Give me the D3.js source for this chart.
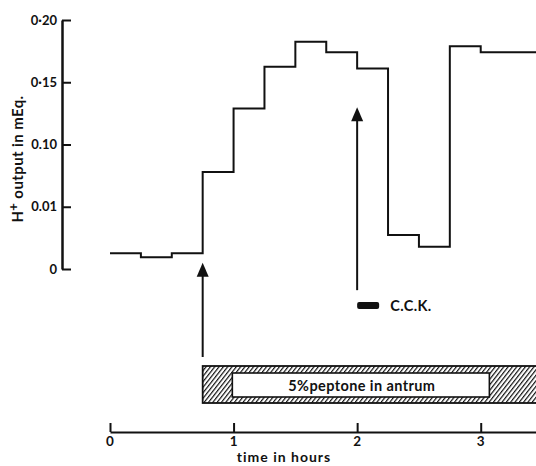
<!DOCTYPE html>
<head>
  <meta charset="utf-8">
  <style>
    body { margin: 0; background: #fff; }
    text { font-family: Lato, "DejaVu Sans", sans-serif; font-weight: bold; fill: #111; }
  </style>
  <script src="https://cdn.jsdelivr.net/npm/d3@7"></script>
</head>
<body>
  <script>
    // 15 minute collection periods (start, in hours) and H+ output (mEq)
    const periodStart = [0, 0.25, 0.5, 0.75, 1, 1.25, 1.5, 1.75, 2, 2.25, 2.5, 2.75, 3, 3.25];
    const output = [0.0126, 0.0094, 0.0126, 0.078, 0.129, 0.1625, 0.1826, 0.174, 0.161, 0.0273, 0.0179, 0.179, 0.174, 0.174];
    const periodLen = 0.25;

    const xTicks = [0, 1, 2, 3];
    const yTicks = [0, 0.05, 0.1, 0.15, 0.2];
    const yTickLabels = ['0', '0.01', '0.10', '0·15', '0·20'];

    // annotations: arrows (time, tip value, tail value), peptone infusion, C.C.K.
    const arrows = [[0.75, 0.005, -0.0707], [2, 0.13, -0.017]];
    const peptone = { start: 0.75, end: 3.6, labelStart: 0.99, labelEnd: 3.07, text: '5%peptone in antrum' };

    const w = 536, h = 466;
    const x = d3.scaleLinear().domain([0, 3.5]).range([110, 542.5]);
    const y = d3.scaleLinear().domain([0, 0.2]).range([269, 20]);

    const svg = d3.select('body').append('svg')
      .attr('width', w)
      .attr('height', h);

    const defs = svg.append('defs');
    defs.append('pattern')
      .attr('id', 'hatch')
      .attr('patternUnits', 'userSpaceOnUse')
      .attr('width', 3.4)
      .attr('height', 6)
      .attr('patternTransform', 'rotate(38)')
      .append('line')
      .attr('x1', 0).attr('y1', 0).attr('x2', 0).attr('y2', 6)
      .attr('stroke', '#111')
      .attr('stroke-width', 2.4);

    // y axis
    const yAxis = svg.append('g')
      .attr('transform', 'translate(62,0)')
      .call(d3.axisRight(y).tickValues(yTicks).tickSize(9).tickSizeOuter(0).tickFormat(''));
    yAxis.select('.domain').attr('stroke', '#111').attr('stroke-width', 2.5);
    yAxis.selectAll('.tick line').attr('stroke', '#111').attr('stroke-width', 2);

    svg.selectAll('.ylab')
      .data(yTicks)
      .enter()
      .append('text')
      .attr('class', 'ylab')
      .attr('x', 57)
      .attr('y', d => y(d) + 4.5)
      .attr('text-anchor', 'end')
      .attr('font-size', '13px')
      .text((d, i) => yTickLabels[i]);

    const yTitle = svg.append('text')
      .attr('transform', 'translate(23,159) rotate(-90)')
      .attr('text-anchor', 'middle')
      .attr('font-size', '15px')
      .attr('letter-spacing', '0.4px');
    yTitle.append('tspan').text('H');
    yTitle.append('tspan').attr('dy', -5).attr('font-size', '13px').text('+');
    yTitle.append('tspan').attr('dy', 5).text(' output in mEq.');

    // x axis
    const xAxis = svg.append('g')
      .attr('transform', 'translate(0,432)')
      .call(d3.axisTop(x).tickValues(xTicks.concat([3.5])).tickSize(9).tickSizeOuter(0).tickFormat(''));
    xAxis.select('.domain').attr('stroke', '#111').attr('stroke-width', 2.2);
    xAxis.selectAll('.tick line').attr('stroke', '#111').attr('stroke-width', 2);

    svg.selectAll('.xlab')
      .data(xTicks)
      .enter()
      .append('text')
      .attr('class', 'xlab')
      .attr('x', d => x(d))
      .attr('y', 446)
      .attr('text-anchor', 'middle')
      .attr('font-size', '13.5px')
      .text(d => d);

    svg.append('text')
      .attr('x', 284)
      .attr('y', 462)
      .attr('text-anchor', 'middle')
      .attr('font-size', '14px')
      .attr('letter-spacing', '1px')
      .text('time  in  hours');

    // step line of acid output
    const pts = [];
    periodStart.forEach((t, i) => {
      pts.push([t, output[i]]);
      pts.push([t + periodLen, output[i]]);
    });
    svg.append('path')
      .datum(pts)
      .attr('fill', 'none')
      .attr('stroke', '#111')
      .attr('stroke-width', 2)
      .attr('d', d3.line().x(d => x(d[0])).y(d => y(d[1])));

    // arrows
    arrows.forEach(a => {
      const ax = x(a[0]), tip = y(a[1]);
      svg.append('line')
        .attr('x1', ax).attr('x2', ax)
        .attr('y1', tip + 10).attr('y2', y(a[2]))
        .attr('stroke', '#111').attr('stroke-width', 2);
      svg.append('path')
        .attr('d', `M${ax},${tip} L${ax - 6},${tip + 14} L${ax + 6},${tip + 14} Z`)
        .attr('fill', '#111');
    });

    // C.C.K. marker
    svg.append('rect')
      .attr('x', x(2)).attr('y', 302)
      .attr('width', 22).attr('height', 7)
      .attr('rx', 2)
      .attr('fill', '#111');
    svg.append('text')
      .attr('x', x(2) + 33).attr('y', 311)
      .attr('font-size', '14.5px')
      .attr('letter-spacing', '0.4px')
      .text('C.C.K.');

    // peptone infusion bar
    svg.append('rect')
      .attr('x', x(peptone.start)).attr('y', 366)
      .attr('width', x(peptone.end) - x(peptone.start)).attr('height', 37)
      .attr('fill', 'url(#hatch)')
      .attr('stroke', '#111').attr('stroke-width', 1.8);
    svg.append('rect')
      .attr('x', x(peptone.labelStart)).attr('y', 373)
      .attr('width', x(peptone.labelEnd) - x(peptone.labelStart)).attr('height', 24)
      .attr('fill', '#fff')
      .attr('stroke', '#111').attr('stroke-width', 1.6);
    svg.append('text')
      .attr('x', (x(peptone.labelStart) + x(peptone.labelEnd)) / 2 + 1)
      .attr('y', 390.5)
      .attr('text-anchor', 'middle')
      .attr('font-size', '14.5px')
      .attr('letter-spacing', '0.4px')
      .text(peptone.text);
  </script>
</body>
